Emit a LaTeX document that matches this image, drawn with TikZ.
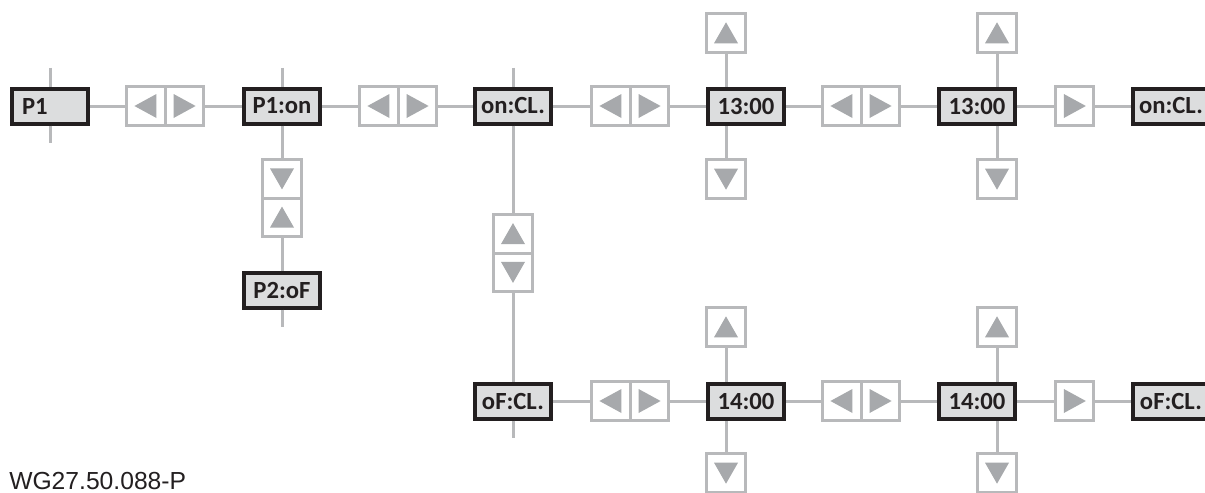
\documentclass[tikz,border=0pt]{standalone}
\usepackage{fontspec}
\setmainfont{Carlito}
\newfontfamily\arialfont{Liberation Sans}
\definecolor{boxblack}{HTML}{231F20}
\definecolor{boxfill}{HTML}{DCDDDE}
\definecolor{cellgray}{HTML}{B8B9BB}
\definecolor{linegray}{HTML}{B8B9BB}
\definecolor{trigray}{HTML}{A7A9AC}
\begin{document}
\begin{tikzpicture}[x=0.75pt,y=-0.75pt,
  box/.style={draw=boxblack, fill=boxfill, line width=3pt, minimum width=57pt,
    minimum height=26.25pt, inner sep=0pt, text=boxblack,
    font=\fontsize{18.5}{20}\selectfont\bfseries},
  boxleft/.style={box, text width=42pt, align=left},
  cell/.style={draw=cellgray, fill=white, line width=2.25pt, minimum width=28.875pt,
    minimum height=28.875pt, inner sep=0pt},
  conn/.style={draw=linegray, line width=2.25pt},
  cellL/.style={cell, path picture={\fill[trigray]
    ([shift={(-8.5pt,0pt)}]path picture bounding box.center) --
    ([shift={(8pt,9pt)}]path picture bounding box.center) --
    ([shift={(8pt,-9pt)}]path picture bounding box.center) -- cycle;}},
  cellR/.style={cell, path picture={\fill[trigray]
    ([shift={(8.5pt,0pt)}]path picture bounding box.center) --
    ([shift={(-8pt,9pt)}]path picture bounding box.center) --
    ([shift={(-8pt,-9pt)}]path picture bounding box.center) -- cycle;}},
  cellU/.style={cell, path picture={\fill[trigray]
    ([shift={(0pt,8pt)}]path picture bounding box.center) --
    ([shift={(9pt,-7.75pt)}]path picture bounding box.center) --
    ([shift={(-9pt,-7.75pt)}]path picture bounding box.center) -- cycle;}},
  cellD/.style={cell, path picture={\fill[trigray]
    ([shift={(0pt,-8pt)}]path picture bounding box.center) --
    ([shift={(9pt,7.75pt)}]path picture bounding box.center) --
    ([shift={(-9pt,7.75pt)}]path picture bounding box.center) -- cycle;}}
]
\useasboundingbox (0,0) rectangle (1205,492);
\fill[white] (0,0) rectangle (1205,492);

% top row
\node[boxleft] (p1) at (50,106) {P1};
\node[cellL] (a1) at (145.75,106) {};
\node[cellR] (a2) at (184.25,106) {};
\node[box] (p1on) at (282,106) {P1:on};
\node[cellL] (b1) at (378.75,106) {};
\node[cellR] (b2) at (417.25,106) {};
\node[box] (oncl) at (513,106) {on:CL.};
\node[cellL] (c1) at (610.75,106) {};
\node[cellR] (c2) at (649.25,106) {};
\node[box] (t1) at (746,106) {13:00};
\node[cellL] (d1) at (841.75,106) {};
\node[cellR] (d2) at (880.25,106) {};
\node[box] (t2) at (977,106) {13:00};
\node[cellR] (e1) at (1074.5,106) {};
\node[box] (oncl2) at (1171,106) {on:CL.};

% P1:on branch
\node[cellD] (f1) at (282,178.75) {};
\node[cellU] (f2) at (282,217.25) {};
\node[box] (p2) at (282,290) {P2:oF};

% on:CL. branch
\node[cellU] (g1) at (513,233.75) {};
\node[cellD] (g2) at (513,272.25) {};

% bottom row
\node[box] (ofcl) at (513,401) {oF:CL.};
\node[cellL] (h1) at (610.75,401) {};
\node[cellR] (h2) at (649.25,401) {};
\node[box] (q1) at (746,401) {14:00};
\node[cellL] (i1) at (841.75,401) {};
\node[cellR] (i2) at (880.25,401) {};
\node[box] (q2) at (977,401) {14:00};
\node[cellR] (j1) at (1074.5,401) {};
\node[box] (ofcl2) at (1171,401) {oF:CL.};

% up / down cells
\node[cellU] (u1) at (726,33) {};
\node[cellD] (v1) at (726,179) {};
\node[cellU] (u2) at (997,33) {};
\node[cellD] (v2) at (997,179) {};
\node[cellU] (u3) at (726,327) {};
\node[cellD] (v3) at (726,473) {};
\node[cellU] (u4) at (997,327) {};
\node[cellD] (v4) at (997,473) {};

% stub ends
\coordinate (s1) at (50,68);
\coordinate (s2) at (50,143);
\coordinate (s3) at (282,68);
\coordinate (s4) at (513,68);
\coordinate (s5) at (282,327);
\coordinate (s6) at (513,438);

% connectors
\draw[conn] (s1) -- (p1.north);
\draw[conn] (p1.south) -- (s2);
\draw[conn] (s3) -- (p1on.north);
\draw[conn] (s4) -- (oncl.north);
\draw[conn] (p2.south) -- (s5);
\draw[conn] (ofcl.south) -- (s6);

\draw[conn] (p1.east) -- (a1.west);
\draw[conn] (a2.east) -- (p1on.west);
\draw[conn] (p1on.east) -- (b1.west);
\draw[conn] (b2.east) -- (oncl.west);
\draw[conn] (oncl.east) -- (c1.west);
\draw[conn] (c2.east) -- (t1.west);
\draw[conn] (t1.east) -- (d1.west);
\draw[conn] (d2.east) -- (t2.west);
\draw[conn] (t2.east) -- (e1.west);
\draw[conn] (e1.east) -- (oncl2.west);

\draw[conn] (p1on.south) -- (f1.north);
\draw[conn] (f2.south) -- (p2.north);
\draw[conn] (oncl.south) -- (g1.north);
\draw[conn] (g2.south) -- (ofcl.north);

\draw[conn] (ofcl.east) -- (h1.west);
\draw[conn] (h2.east) -- (q1.west);
\draw[conn] (q1.east) -- (i1.west);
\draw[conn] (i2.east) -- (q2.west);
\draw[conn] (q2.east) -- (j1.west);
\draw[conn] (j1.east) -- (ofcl2.west);

\draw[conn] (u1.south) -- (u1.south |- t1.north);
\draw[conn] (v1.north) -- (v1.north |- t1.south);
\draw[conn] (u2.south) -- (u2.south |- t2.north);
\draw[conn] (v2.north) -- (v2.north |- t2.south);
\draw[conn] (u3.south) -- (u3.south |- q1.north);
\draw[conn] (v3.north) -- (v3.north |- q1.south);
\draw[conn] (u4.south) -- (u4.south |- q2.north);
\draw[conn] (v4.north) -- (v4.north |- q2.south);

% footer
\node[anchor=base west, inner sep=0pt, text=boxblack,
  font=\arialfont\fontsize{18.5}{20}\selectfont] (ft) at (9,489) {WG27.50.088-P};
\end{tikzpicture}
\end{document}
